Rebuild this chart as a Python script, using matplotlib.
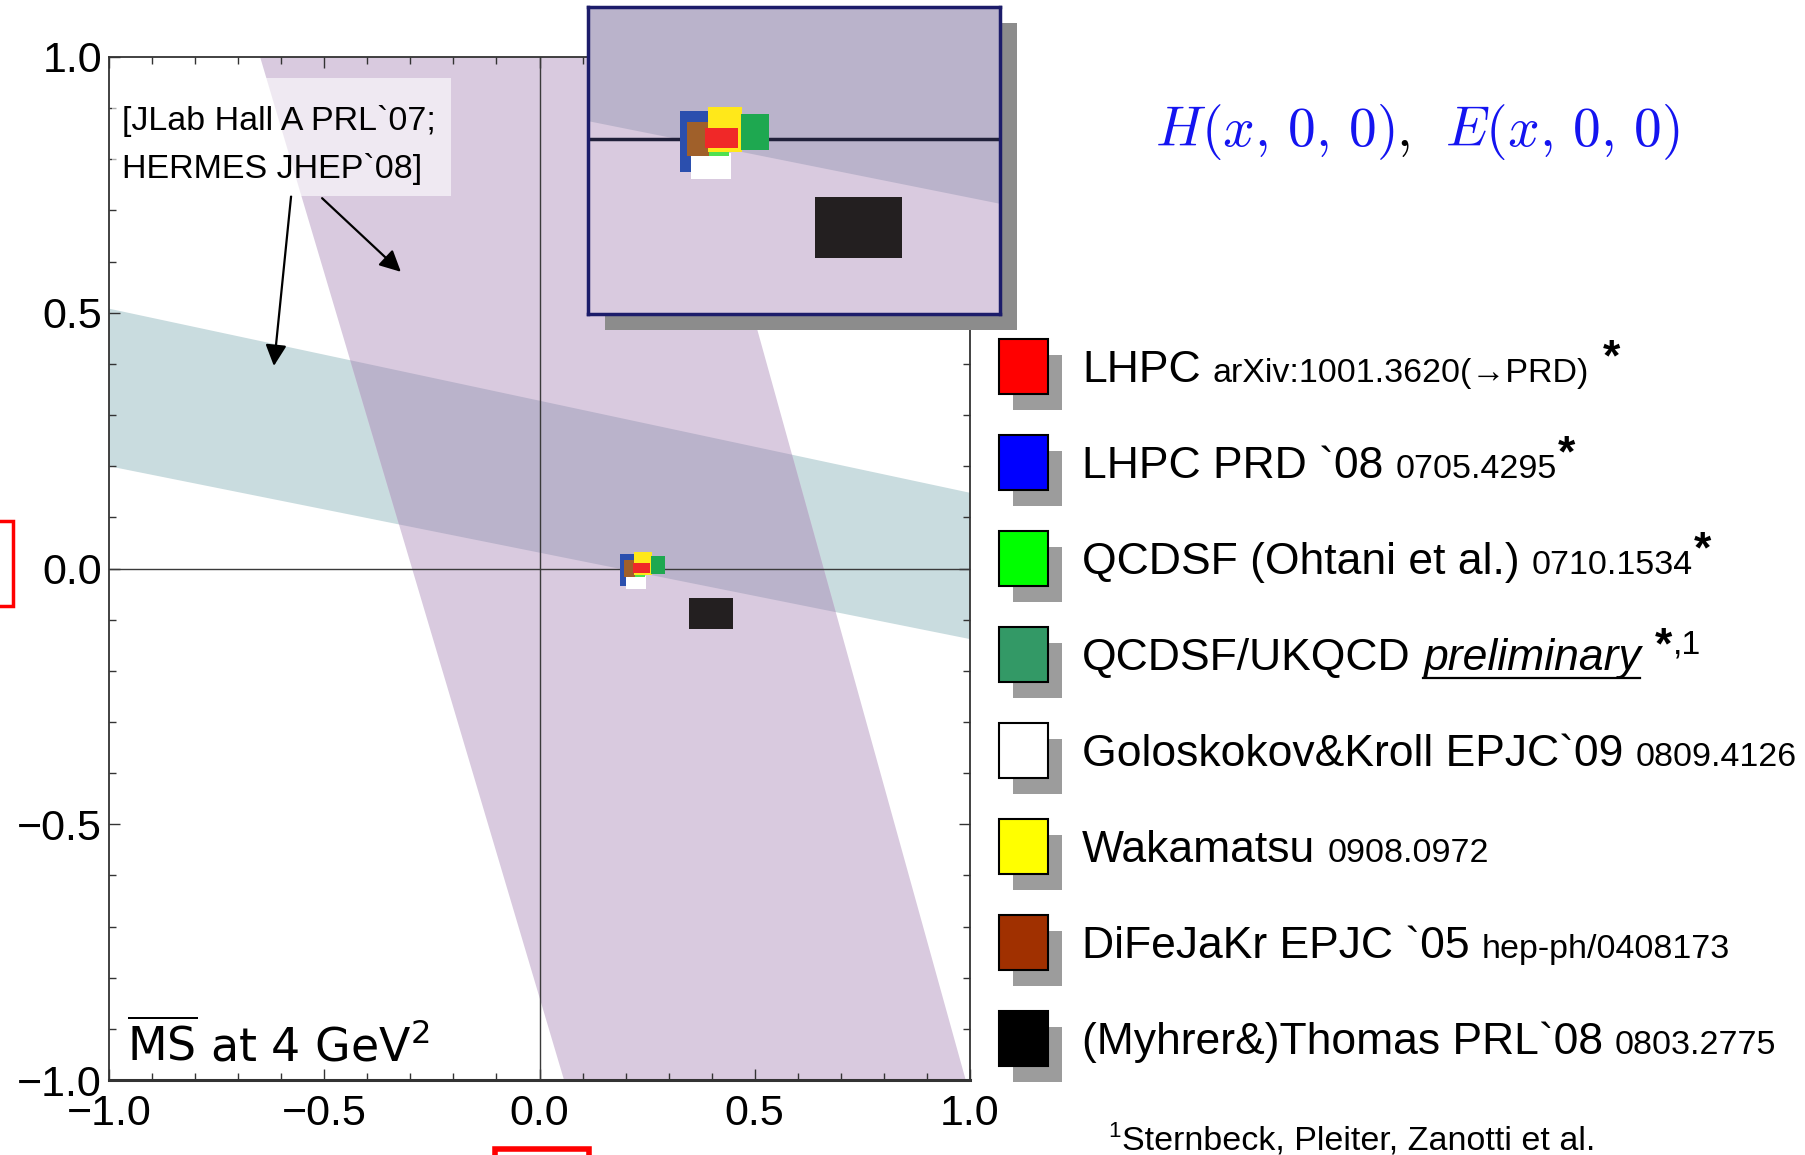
import matplotlib
matplotlib.use("Agg")
import matplotlib.pyplot as plt
from matplotlib.patches import Polygon, Rectangle
from matplotlib.lines import Line2D
from matplotlib.ticker import MultipleLocator, FixedLocator, FixedFormatter

# ---------------- data ----------------
# experimental constraint bands [JLab Hall A PRL'07; HERMES JHEP'08]
purple_left_x = [0.057, -0.649]    # left edge x at y=-1, y=+1
purple_right_x = [0.990, 0.330]    # right edge x at y=-1, y=+1
teal_top_y = [0.508, 0.148]        # top edge y at x=-1, x=+1
teal_bottom_y = [0.200, -0.138]    # bottom edge y at x=-1, x=+1

labels_main = ["LHPC", "LHPC PRD `08", "QCDSF (Ohtani et al.)", "QCDSF/UKQCD",
               "Goloskokov&Kroll EPJC`09", "Wakamatsu", "DiFeJaKr EPJC `05",
               "(Myhrer&)Thomas PRL`08"]
labels_ref = ["arXiv:1001.3620(\u2192PRD)", "0705.4295", "0710.1534", "preliminary",
              "0809.4126", "0908.0972", "hep-ph/0408173", "0803.2775"]
label_notes = ["*", "*", "*", "*", "", "", "", ""]
label_sup = ["", "", "", ",1", "", "", "", ""]
legend_colors = ["#ff0000", "#0000ff", "#00ff00", "#339966",
                 "#ffffff", "#ffff00", "#a03000", "#000000"]
box_colors = ["#f02828", "#2b4fae", "#50e050", "#1ea850",
              "#ffffff", "#ffe81a", "#a0602a", "#231f20"]
# error boxes (x range, y range)
box_x_lo = [0.217, 0.187, 0.222, 0.2597, 0.200, 0.2205, 0.196, 0.347]
box_x_hi = [0.256, 0.232, 0.245, 0.292, 0.2476, 0.261, 0.232, 0.449]
box_y_lo = [-0.0092, -0.0334, -0.017, -0.0109, -0.040, -0.0126, -0.0175, -0.1187]
box_y_hi = [0.0106, 0.0278, 0.005, 0.0248, -0.0142, 0.032, 0.0172, -0.0575]
draw_order = [1, 4, 6, 2, 5, 0, 3, 7]

xticks = [-1.0, -0.5, 0.0, 0.5, 1.0]
xticklabels = ["\u22121.0", "\u22120.5", "0.0", "0.5", "1.0"]
yticks = [-1.0, -0.5, 0.0, 0.5, 1.0]
yticklabels = ["\u22121.0", "\u22120.5", "0.0", "0.5", "1.0"]
inset_xlim = (0.079, 0.565)
inset_ylim = (-0.174, 0.131)

NARROW = ["Liberation Sans", "DejaVu Sans"]
C_PURPLE = "#d9cadf"
C_TEAL = "#c9dcdf"
C_OVER = "#bab3cb"

W, H = 1805, 1155
fig = plt.figure(figsize=(W / 100, H / 100), dpi=100)
renderer = fig.canvas.get_renderer()


def fr(x0, y0, x1, y1):
    return [x0 / W, 1 - y1 / H, (x1 - x0) / W, (y1 - y0) / H]


def draw_content(a, zero_lw, zero_col, vline=True):
    purple = [(purple_left_x[0], -1), (purple_right_x[0], -1),
              (purple_right_x[1], 1), (purple_left_x[1], 1)]
    teal = [(-1, teal_top_y[0]), (1, teal_top_y[1]),
            (1, teal_bottom_y[1]), (-1, teal_bottom_y[0])]
    a.add_patch(Polygon(teal, closed=True, fc=C_TEAL, ec="none", zorder=1))
    pp = a.add_patch(Polygon(purple, closed=True, fc=C_PURPLE, ec="none", zorder=1))
    ov = a.add_patch(Polygon(teal, closed=True, fc=C_OVER, ec="none", zorder=1.5))
    ov.set_clip_path(pp)
    a.axhline(0, color=zero_col, lw=zero_lw, zorder=2)
    if vline:
        a.axvline(0, color=zero_col, lw=zero_lw, zorder=2)
    for k in draw_order:
        a.add_patch(Rectangle((box_x_lo[k], box_y_lo[k]),
                              box_x_hi[k] - box_x_lo[k], box_y_hi[k] - box_y_lo[k],
                              fc=box_colors[k], ec="none", zorder=3))


# ---------------- main axes ----------------
ax = fig.add_axes(fr(109, 57, 970, 1080), zorder=0)
ax.set_xlim(-1, 1)
ax.set_ylim(-1, 1)
draw_content(ax, 1.0, "#3a3a3a")
ax.xaxis.set_major_locator(FixedLocator(xticks))
ax.xaxis.set_major_formatter(FixedFormatter(xticklabels))
ax.yaxis.set_major_locator(FixedLocator(yticks))
ax.yaxis.set_major_formatter(FixedFormatter(yticklabels))
ax.xaxis.set_minor_locator(MultipleLocator(0.1))
ax.yaxis.set_minor_locator(MultipleLocator(0.1))
ax.tick_params(which="both", direction="in", top=True, right=True,
               color="#333333", width=1.0)
ax.tick_params(which="major", length=8)
ax.tick_params(which="minor", length=5)
ax.tick_params(axis="x", which="major", pad=10)
ax.tick_params(axis="y", which="major", pad=5)
for lab in ax.get_xticklabels() + ax.get_yticklabels():
    lab.set_family(NARROW)
    lab.set_fontsize(31)
for s in ax.spines.values():
    s.set_color("#333333")
    s.set_linewidth(1.3)
ax.spines["bottom"].set_linewidth(2.2)

# arrows from the annotation box
ax.annotate("", xy=(-0.617, 0.396), xytext=(-0.577, 0.728),
            arrowprops=dict(arrowstyle="-|>", color="black", lw=1.6,
                            mutation_scale=32, shrinkA=0, shrinkB=0), zorder=4)
ax.annotate("", xy=(-0.322, 0.580), xytext=(-0.505, 0.724),
            arrowprops=dict(arrowstyle="-|>", color="black", lw=1.6,
                            mutation_scale=32, shrinkA=0, shrinkB=0), zorder=4)

# annotation box
fig.add_artist(Rectangle((112 / W, 1 - 196 / H), (451 - 112) / W, (196 - 78) / H,
                         transform=fig.transFigure, fc="white", ec="none",
                         alpha=0.6, zorder=2))
fig.text(122 / W, 1 - 130 / H, "[JLab Hall A PRL`07;", fontsize=24.5, family=NARROW,
         va="baseline", ha="left", zorder=3)
fig.text(122 / W, 1 - 178 / H, "HERMES JHEP`08]", fontsize=24.5, family=NARROW,
         va="baseline", ha="left", zorder=3)

# scheme label
fig.text(127 / W, 1 - 1062 / H, r"$\overline{\mathrm{MS}}$ at 4 GeV$^2$",
         fontsize=33, family="DejaVu Sans", va="baseline", ha="left", zorder=3)

# ---------------- inset ----------------
fig.add_artist(Rectangle((605 / W, 1 - 330 / H), 412 / W, 307 / H,
                         transform=fig.transFigure, fc="#8c8c8c", ec="none", zorder=2))
axin = fig.add_axes(fr(588, 7, 1000, 314), zorder=3)
axin.set_xlim(*inset_xlim)
axin.set_ylim(*inset_ylim)
draw_content(axin, 2.5, "#20203a", vline=False)
axin.set_xticks([])
axin.set_yticks([])
for s in axin.spines.values():
    s.set_color("#1c1c6a")
    s.set_linewidth(2.5)


# ---------------- legend ----------------
def put(x, base, s, size, weight="normal", style="normal", raise_px=0,
        color="black", family=NARROW, mathfam=None):
    kw = {}
    if mathfam:
        kw["math_fontfamily"] = mathfam
    t = fig.text(x / W, 1 - (base - raise_px) / H, s, fontsize=size,
                 fontweight=weight, fontstyle=style, family=family,
                 va="baseline", ha="left", color=color, zorder=4, **kw)
    return t.get_window_extent(renderer)


BIG, SMALL, STAR = 32, 24.5, 32
for i in range(len(labels_main)):
    cy = 366 + i * 96
    base = cy + 16
    fig.add_artist(Rectangle(((999 + 14) / W, 1 - (cy + 28 + 16) / H), 49 / W, 55 / H,
                             transform=fig.transFigure, fc="#9c9c9c", ec="none", zorder=3))
    fig.add_artist(Rectangle((999 / W, 1 - (cy + 28) / H), 49 / W, 55 / H,
                             transform=fig.transFigure, fc=legend_colors[i],
                             ec="black", lw=1.5, zorder=3.5))
    bb = put(1082, base, labels_main[i], BIG)
    x = bb.x1 + 12
    if i == 3:
        bb = put(x, base, labels_ref[i], BIG, style="italic")
        fig.add_artist(Line2D([bb.x0 / W, bb.x1 / W], [1 - (base + 8) / H] * 2,
                              transform=fig.transFigure, color="black", lw=1.6, zorder=4))
    else:
        bb = put(x, base, labels_ref[i], SMALL)
    x = bb.x1 + (14 if i in (0, 3) else 1)
    if label_notes[i]:
        bb = put(x, base, label_notes[i], STAR, weight="bold", raise_px=12)
        x = bb.x1 + 1
    if label_sup[i]:
        put(x, base, label_sup[i], SMALL, raise_px=16)

# footnote
bb = put(1108, 1150, "1", 16, raise_px=13)
put(bb.x1 + 1, 1150, "Sternbeck, Pleiter, Zanotti et al.", 24.5)

# title
bb = put(1155, 146, r"$H(x,\,0,\,0)$", 40, color="#1414f0", mathfam="cm")
bb = put(bb.x1 + 1, 146, r"$,$", 40, color="black", mathfam="cm")
put(bb.x1 + 36, 146, r"$E(x,\,0,\,0)$", 40, color="#1414f0", mathfam="cm")

# red outline marks
fig.add_artist(Rectangle((-10 / W, 1 - 606 / H), 23 / W, 85 / H, transform=fig.transFigure,
                         fc="none", ec="#ff0000", lw=2.5, zorder=5))
fig.add_artist(Rectangle((495 / W, 1 - 1175 / H), 94 / W, 26 / H, transform=fig.transFigure,
                         fc="none", ec="#ff0000", lw=4, zorder=5))

fig.savefig("out.png", dpi=100)
